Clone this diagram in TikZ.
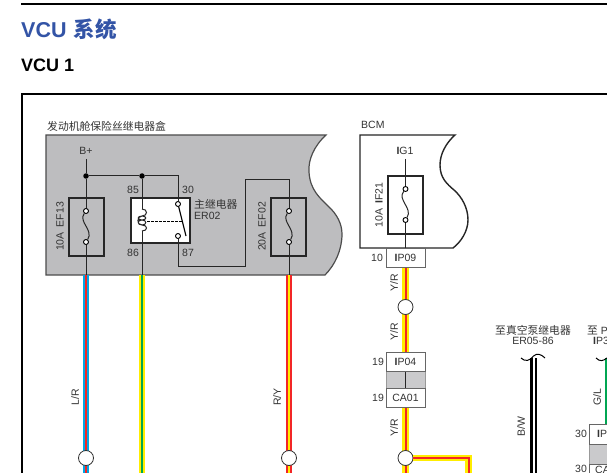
\documentclass[tikz,border=0pt]{standalone}
\usepackage{fontspec}
\setmainfont{Liberation Sans}
\newfontfamily\cjk{Noto Sans CJK SC}
\definecolor{titleblue}{rgb}{0.2, 0.33, 0.65}
\definecolor{boxgray}{rgb}{0.74, 0.74, 0.75}
\definecolor{inkgray}{rgb}{0.2, 0.2, 0.2}
\definecolor{wireblue}{rgb}{0.0, 0.65, 0.9}
\definecolor{wirered}{rgb}{0.95, 0.15, 0.15}
\definecolor{wireyellow}{rgb}{1.0, 0.93, 0.0}
\definecolor{wiregreen}{rgb}{0.0, 0.65, 0.32}
\tikzset{
	lbl/.style={inner sep=0, text=inkgray, font=\fontsize{10.5}{11}\selectfont},
	vlbl/.style={lbl, rotate=90},
	fusebox/.style={draw=black!85, line width=1.5, minimum width=35, minimum height=58, inner sep=0},
	pinbox/.style={draw=black!60, line width=1, fill=white, text=inkgray, minimum width=39, minimum height=19, inner sep=0, font=\fontsize{10.5}{11}\selectfont},
	term/.style={draw=black, fill=white, circle, line width=0.9, minimum size=5, inner sep=0},
	dotnode/.style={fill=black, circle, minimum size=5.5, inner sep=0},
	splice/.style={draw=black!80, fill=white, circle, line width=0.8, minimum size=15, inner sep=0},
	thin wire/.style={draw=black!85, line width=1},
	wire/.style={line width=2.4, double distance=2},
}
\begin{document}
\begin{tikzpicture}[x=1pt, y=-1pt]
	\useasboundingbox (0,0) rectangle (607,473);
	% page head
	\draw[black, line width=1.5] (21,4) -- (607,4);
	\node[anchor=west, inner sep=0, text=titleblue, font=\fontsize{21.5}{22}\selectfont\bfseries] (title) at (21,29) {VCU {\cjk\fontsize{21.5}{22}\selectfont\hspace{1pt}系统}};
	\node[anchor=west, inner sep=0, font=\fontsize{18}{19}\selectfont\bfseries] (subtitle) at (21,65.5) {VCU 1};
	\draw[black, line width=1.5] (607,94) -- (22,94) -- (22,473);

	% engine bay box
	\node[lbl, anchor=west] (boxname) at (47,126) {\cjk\fontsize{10.8}{11}\selectfont 发动机舱保险丝继电器盒};
	\draw[draw=black!70, fill=boxgray, line width=1.2] (46,135) -- (326,135)
		.. controls (314,146) and (308,160) .. (309,172)
		.. controls (310,190) and (320,198) .. (328,206)
		.. controls (337,214) and (342,224) .. (342,234)
		.. controls (342,250) and (335,265) .. (325,275) -- (46,275) -- cycle;

	% bcm box
	\node[lbl, anchor=west] (bcmname) at (361,125) {BCM};
	\draw[draw=black!85, fill=white, line width=1.4] (360,135) -- (455,135)
		.. controls (446,143) and (440,154) .. (440,165)
		.. controls (440,178) and (447,184) .. (454,190)
		.. controls (462,197) and (468,208) .. (468,220)
		.. controls (468,231) and (461,242) .. (453,248) -- (360,248) -- cycle;

	% coloured wires
	\coordinate (lrtop) at (86,275);
	\coordinate (lrend) at (86,473);
	\coordinate (gytop) at (142,275);
	\coordinate (gyend) at (142,473);
	\coordinate (rytop) at (289,275);
	\coordinate (ryend) at (289,473);
	\coordinate (yrtop) at (405.5,267);
	\coordinate (yrend) at (405.5,473);
	\coordinate (yrbend) at (468.5,458);
	\coordinate (yrdown) at (468.5,473);
	\coordinate (bwtop) at (533.5,358);
	\coordinate (bwend) at (533.5,473);
	\coordinate (gltop) at (608,358);
	\coordinate (glend) at (608,424);
	\draw[wire, draw=wireblue, double=wirered] (lrtop) -- (lrend);
	\draw[wire, draw=wireyellow, double=wiregreen] (gytop) -- (gyend);
	\draw[wire, draw=wirered, double=wireyellow] (rytop) -- (ryend);
	\draw[wire, draw=wireyellow, double=wirered] (yrtop) -- (yrend);
	\draw[wire, draw=black, double=white] (bwtop) -- (bwend);
	\draw[wire, draw=wiregreen, double=wiregreen] (gltop) -- (glend);

	% fuses
	\node[fusebox] (ef13) at (86.5,227) {};
	\node[fusebox] (ef02) at (288.5,227) {};
	\node[fusebox] (if21) at (405.5,205) {};
	\node[vlbl] (ef13name) at (60,226.5) {10A\hspace{5pt}EF13};
	\node[vlbl] (ef02name) at (262,226.5) {20A\hspace{5pt}EF02};
	\node[vlbl] (if21name) at (379,205) {10A\hspace{5pt}{\bfseries I}F21};

	% relay
	\node[draw=black!85, fill=white, line width=1.5, minimum width=59, minimum height=45, inner sep=0] (er02) at (160.5,220.5) {};
	\node[lbl] (p85) at (133,190) {85};
	\node[lbl] (p30) at (188,190) {30};
	\node[lbl] (p86) at (133,253) {86};
	\node[lbl] (p87) at (188,253) {87};
	\node[lbl, anchor=west] (ername) at (194,204) {\cjk\fontsize{10.8}{11}\selectfont 主继电器};
	\node[lbl, anchor=west] (ercode) at (194,216) {ER02};

	% feed lines
	\node[lbl] (bplus) at (86,151) {B+};
	\node[dotnode] (j1) at (86,176) {};
	\node[dotnode] (j2) at (142,176) {};
	\coordinate (bstart) at (86,159);
	\coordinate (c1) at (178,176);
	\coordinate (f1) at (289,180);
	\coordinate (f2) at (245,180);
	\coordinate (f3) at (245,266);
	\coordinate (f4) at (178,266);
	\coordinate (coila) at (142,209);
	\coordinate (coilb) at (142,231);
	\node[term] (t1) at (86,211) {};
	\node[term] (t2) at (86,242) {};
	\node[term] (t3) at (289,211) {};
	\node[term] (t4) at (289,242) {};
	\node[term] (t5) at (405.5,189) {};
	\node[term] (t6) at (405.5,220) {};
	\node[term] (t7) at (178,204) {};
	\node[term] (t8) at (178,236) {};
	\draw[thin wire] (bstart) -- (j1) -- (t1);
	\draw[thin wire] (t2) -- (lrtop);
	\draw[thin wire] (j1) -- (j2) -- (c1) -- (t7);
	\draw[thin wire] (j2) -- (coila);
	\draw[thin wire] (coilb) -- (gytop);
	\draw[thin wire] (t8) -- (f4) -- (f3) -- (f2) -- (f1) -- (t3);
	\draw[thin wire] (t4) -- (rytop);

	% fuse links
	\draw[thin wire] (t1) .. controls (78,222) and (94,230) .. (t2);
	\draw[thin wire] (t3) .. controls (281,222) and (297,230) .. (t4);
	\draw[thin wire] (t5) .. controls (397,200) and (413,208) .. (t6);

	% coil and contact
	\draw[thin wire] (coila) .. controls (148,209) and (148,216) .. (142,216)
		.. controls (137,216) and (137,220) .. (142,220)
		.. controls (147,220) and (147,216) .. (142,216)
		.. controls (137,216) and (136,225) .. (142,225)
		.. controls (147,225) and (147,220) .. (142,220)
		.. controls (137,220) and (137,225) .. (142,225)
		.. controls (148,225) and (148,231) .. (coilb);
	\coordinate (swend) at (186,236);
	\coordinate (dasha) at (147,221);
	\coordinate (dashb) at (182,221);
	\draw[black, line width=1.2] (t7) -- (swend);
	\draw[black, line width=0.8, dash pattern=on 2.5pt off 1.5pt] (dasha) -- (dashb);

	% ig1 feed
	\node[lbl] (ig1) at (405,151) {{\bfseries I}G1};
	\coordinate (igstart) at (405.5,159);
	\node[pinbox] (ip09) at (405.5,257.5) {{\bfseries I}P09};
	\draw[thin wire] (igstart) -- (t5);
	\draw[thin wire] (t6) -- (ip09.north -| t6);
	\node[lbl] (n10) at (377,257.5) {10};

	% inline connector
	\node[draw=black!40, fill=boxgray!80, line width=0.5, minimum width=39, minimum height=17, inner sep=0] (gap1) at (405.5,379.5) {};
	\draw[thin wire] (gap1.north) -- (gap1.south);
	\node[pinbox] (ip04) at (405.5,361.5) {{\bfseries I}P04};
	\node[pinbox] (ca01) at (405.5,397.5) {CA01};
	\node[lbl] (n19a) at (378,361.5) {19};
	\node[lbl] (n19b) at (378,397.5) {19};

	% branch to the right
	\node[splice] (s1) at (405.5,307) {};
	\node[splice] (s2) at (405.5,458) {};
	\node[splice] (s3) at (86,458) {};
	\node[splice] (s4) at (289,458) {};
	\draw[wire, draw=wireyellow, double=wirered] (s2.east) -- (yrbend) -- (yrdown);

	% wire labels
	\node[vlbl] (wlr) at (75,397) {L/R};
	\node[vlbl] (wry) at (277,397) {R/Y};
	\node[vlbl] (wyr1) at (394,283) {Y/R};
	\node[vlbl] (wyr2) at (394,332) {Y/R};
	\node[vlbl] (wyr3) at (394,428) {Y/R};
	\node[vlbl] (wbw) at (521,427) {B/W};
	\node[vlbl] (wgl) at (597,397) {G/L};

	% off page references
	\node[lbl] (vac) at (533,330) {\cjk\fontsize{10.8}{11}\selectfont 至真空泵继电器};
	\node[lbl] (vaccode) at (533,341) {ER05-86};
	\node[lbl, anchor=west] (pref) at (587,330) {{\cjk\fontsize{10.8}{11}\selectfont 至} P};
	\node[lbl, anchor=west] (prefcode) at (593,341) {{\bfseries I}P3};
	\coordinate (bwl) at (521,358);
	\coordinate (bwr) at (545,358);
	\coordinate (gll) at (596,358);
	\draw[black, line width=1] (bwl) .. controls (525,362) and (530,361) .. (533.5,356)
		.. controls (537,353) and (541,354) .. (bwr);
	\draw[black, line width=1] (gll) .. controls (600,362) and (603,361) .. (607,358);

	% connector at the right edge
	\node[draw=black!40, fill=boxgray!80, line width=0.5, anchor=north west, minimum width=30, minimum height=20, inner sep=0] (gap2) at (589,444) {};
	\node[draw=black!60, fill=white, line width=1, anchor=north west, minimum width=30, minimum height=20, inner sep=0] (ipbox) at (589,424) {};
	\node[draw=black!60, fill=white, line width=1, anchor=north west, minimum width=30, minimum height=20, inner sep=0] (cabox) at (589,464) {};
	\node[lbl, anchor=west] (iptxt) at (597,434) {{\bfseries I}P};
	\node[lbl, anchor=west] (catxt) at (595,470) {CA};
	\node[lbl] (n30a) at (581,434) {30};
	\node[lbl] (n30b) at (581,469) {30};
\end{tikzpicture}
\end{document}
